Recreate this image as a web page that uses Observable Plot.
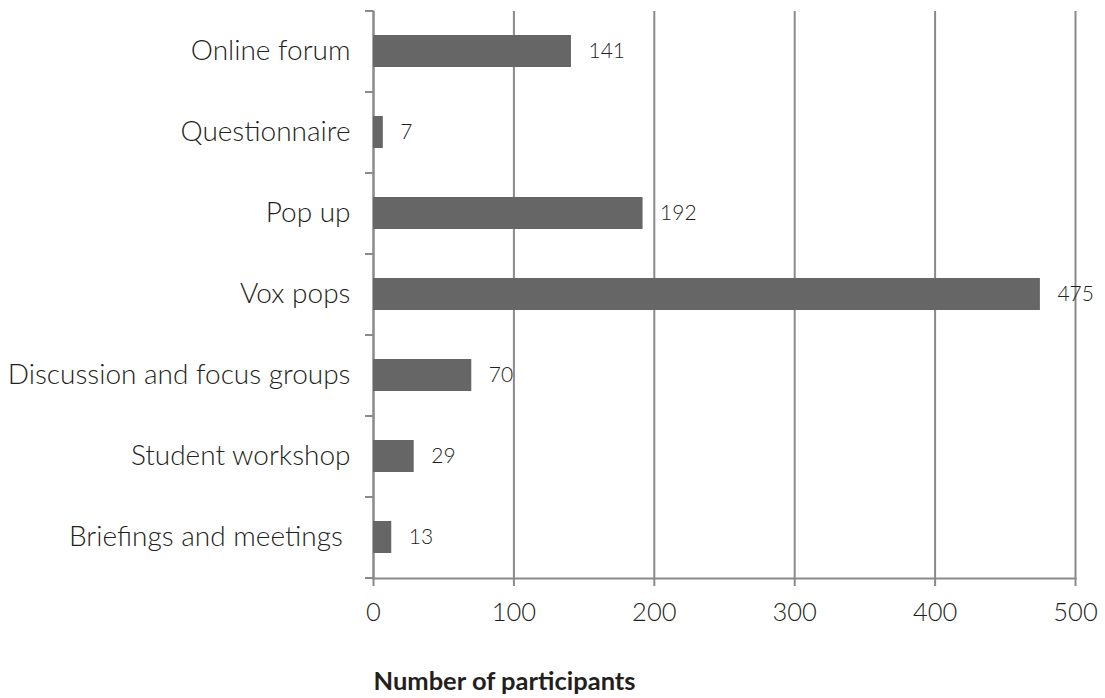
<!DOCTYPE html>
<html>
<head>
<meta charset="utf-8">
<script src="https://cdn.jsdelivr.net/npm/d3@7"></script>
<script src="https://cdn.jsdelivr.net/npm/@observablehq/plot@0.6"></script>
<style>
  html, body { margin: 0; padding: 0; background: #fff; }
  svg { font-family: Lato, "Open Sans", sans-serif; }
</style>
</head>
<body>
<div id="chart"></div>
<script>
const categories = [
  "Online forum",
  "Questionnaire",
  "Pop up",
  "Vox pops",
  "Discussion and focus groups",
  "Student workshop",
  "Briefings and meetings\u00a0"
];
const values = [141, 7, 192, 475, 70, 29, 13];
const xTicks = [0, 100, 200, 300, 400, 500];
const xTitle = "Number of participants";

const data = categories.map((c, i) => ({category: c, value: values[i]}));

const W = 1105, H = 698;
const mT = 11, mB = 120, mL = 373, mR = 30;
const step = (H - mT - mB) / categories.length;
const half = step / 2;

const grey = "#8a8a8a";
const ink = "#231f20";

const chart = Plot.plot({
  width: W,
  height: H,
  marginTop: mT,
  marginBottom: mB,
  marginLeft: mL,
  marginRight: mR,
  style: {background: "#fff", color: ink, fontFamily: "Lato, 'Open Sans', sans-serif"},
  x: {domain: [0, 500], ticks: xTicks},
  y: {domain: categories, paddingInner: 0.6, paddingOuter: 0.3},
  marks: [
    Plot.gridX(xTicks, {stroke: grey, strokeOpacity: 1, strokeWidth: 2}),
    Plot.frame({anchor: "left", stroke: grey, strokeWidth: 2}),
    Plot.frame({anchor: "bottom", stroke: grey, strokeWidth: 2}),
    Plot.axisX({ticks: xTicks, tickSize: 8, tickPadding: 16, stroke: grey, strokeWidth: 2, fontSize: 25.5, fontWeight: 300, label: null, fill: ink}),
    Plot.axisY({tickSize: 0, tickPadding: 23, fontSize: 28, fontWeight: 300, label: null, fill: ink}),
    Plot.axisY({tickSize: 8, text: null, dy: -half, stroke: grey, strokeWidth: 2, label: null}),
    Plot.axisY({tickSize: 8, text: null, dy: half, stroke: grey, strokeWidth: 2, label: null}),
    Plot.barX(data, {x: "value", y: "category", fill: "#666666"}),
    Plot.text(data, {x: "value", y: "category", text: d => String(d.value), dx: 17, textAnchor: "start", fontSize: 21, fontWeight: 300, fill: ink}),
    Plot.text([xTitle], {frameAnchor: "bottom-left", dy: 111, lineAnchor: "bottom", textAnchor: "start", fontSize: 25.5, fontWeight: "bold", fill: ink})
  ]
});

document.getElementById("chart").appendChild(chart);
</script>
</body>
</html>
